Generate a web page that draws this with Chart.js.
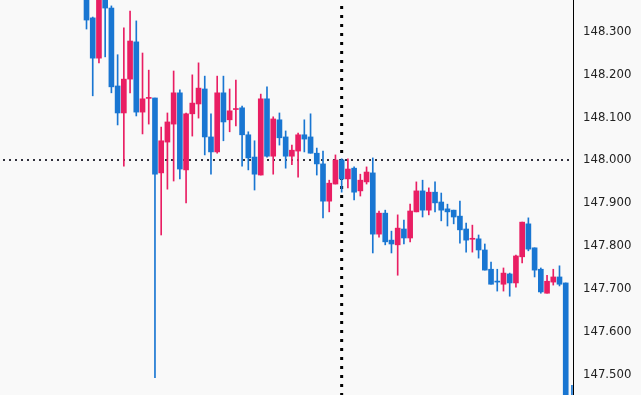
<!DOCTYPE html>
<html><head><meta charset="utf-8">
<script src="https://cdn.jsdelivr.net/npm/chart.js@4.4.1/dist/chart.umd.min.js"></script>
<style>html,body{margin:0;padding:0;background:#f9f9f9;overflow:hidden}#wrap{width:641px;height:395px}</style>
</head><body><div id="wrap"><canvas id="c" width="641" height="395"></canvas></div>
<script>
const candleIndex = [0,1,2,3,4,5,6,7,8,9,10,11,12,13,14,15,16,17,18,19,20,21,22,23,24,25,26,27,28,29,30,31,32,33,34,35,36,37,38,39,40,41,42,43,44,45,46,47,48,49,50,51,52,53,54,55,56,57,58,59,60,61,62,63,64,65,66,67,68,69,70,71,72,73,74,75,76,77,78];
const opens = [148.395,148.332,148.238,148.390,148.355,148.173,148.110,148.189,148.276,148.112,148.144,148.145,147.970,148.042,148.084,148.157,147.977,148.108,148.131,148.166,148.054,148.019,148.157,148.094,148.118,148.122,148.059,148.007,147.965,148.143,148.009,148.094,148.054,148.009,148.021,148.059,148.054,148.016,147.991,147.904,147.944,148.000,147.956,147.981,147.928,147.949,147.970,147.827,147.876,147.813,147.802,147.839,147.818,147.879,147.928,147.883,147.925,147.902,147.886,147.883,147.869,147.839,147.815,147.816,147.790,147.745,147.716,147.710,147.734,147.713,147.774,147.851,147.795,147.745,147.689,147.715,147.727,147.713,147.440];
const highs = [148.400,148.334,148.405,148.398,148.360,148.246,148.309,148.348,148.325,148.250,148.210,148.145,148.077,148.110,148.208,148.164,148.110,148.199,148.227,148.196,148.108,148.196,148.196,148.166,148.187,148.126,148.066,148.045,148.154,148.171,148.101,148.110,148.068,148.035,148.063,148.094,148.108,148.028,148.021,147.953,148.012,148.003,148.003,147.984,147.967,147.984,148.005,147.881,147.883,147.834,147.872,147.860,147.897,147.949,147.953,147.935,147.949,147.923,147.897,147.883,147.904,147.853,147.848,147.825,147.804,147.762,147.745,147.748,147.736,147.778,147.855,147.865,147.795,147.748,147.731,147.745,147.753,147.713,147.474];
const lows = [148.306,148.150,148.227,148.241,148.157,148.082,147.986,148.157,148.103,148.061,148.084,147.492,147.825,147.932,147.951,147.956,147.900,148.056,148.098,148.012,147.967,148.016,148.045,148.066,148.080,147.986,147.977,147.930,147.965,148.007,147.967,148.035,147.981,147.989,147.960,148.019,148.016,147.965,147.865,147.879,147.944,147.925,147.935,147.907,147.916,147.944,147.783,147.820,147.802,147.783,147.731,147.804,147.809,147.879,147.867,147.872,147.879,147.858,147.846,147.851,147.806,147.785,147.785,147.771,147.743,147.710,147.694,147.694,147.682,147.703,147.760,147.788,147.727,147.689,147.689,147.708,147.706,147.400,147.380];
const closes = [148.327,148.238,148.392,148.355,148.171,148.110,148.189,148.278,148.112,148.143,148.145,147.967,148.045,148.089,148.157,147.979,148.108,148.133,148.168,148.054,148.019,148.157,148.089,148.115,148.119,148.059,148.005,147.967,148.143,148.009,148.096,148.052,148.009,148.023,148.059,148.049,148.016,147.991,147.904,147.946,148.000,147.956,147.979,147.925,147.953,147.972,147.827,147.876,147.809,147.804,147.841,147.818,147.881,147.928,147.883,147.925,147.900,147.883,147.879,147.867,147.837,147.813,147.816,147.790,147.743,147.710,147.715,147.736,147.713,147.776,147.855,147.792,147.743,147.692,147.717,147.727,147.710,147.420,147.400];
const yTicks = [147.5,147.6,147.7,147.8,147.9,148.0,148.1,148.2,148.3];
const crossPrice = 148.000;
const crossIndex = 41;

const UP = '#e91e63', DOWN = '#1976d2';
const colorFor = i => closes[i] >= opens[i] ? UP : DOWN;

const bg = {
  id: 'bg',
  beforeDraw(chart) {
    const c = chart.ctx; c.save(); c.fillStyle = '#f9f9f9';
    c.fillRect(0, 0, chart.width, chart.height); c.restore();
  }
};
const cross = {
  id: 'cross',
  beforeDatasetsDraw(chart) {
    const c = chart.ctx, a = chart.chartArea;
    const y = chart.scales.y.getPixelForValue(crossPrice);
    const x = chart.scales.x.getPixelForValue(crossIndex);
    c.save();
    c.strokeStyle = '#30303c'; c.lineWidth = 2; c.setLineDash([2, 4]); c.lineDashOffset = 3;
    c.beginPath(); c.moveTo(a.left, y); c.lineTo(a.right, y); c.stroke();
    c.strokeStyle = '#000'; c.lineWidth = 3; c.setLineDash([3, 6]); c.lineDashOffset = 3;
    c.beginPath(); c.moveTo(x, a.top); c.lineTo(x, a.bottom); c.stroke();
    c.restore();
  }
};

new Chart(document.getElementById('c'), {
  type: 'bar',
  data: {
    datasets: [
      {
        label: 'body',
        data: candleIndex.map((k, i) => ({ x: k, y: [opens[i], closes[i]] })),
        backgroundColor: ctx => colorFor(ctx.dataIndex),
        barThickness: 5, borderWidth: 0, minBarLength: 1, grouped: false
      },
      {
        label: 'wick',
        data: candleIndex.map((k, i) => ({ x: k, y: [lows[i], highs[i]] })),
        backgroundColor: ctx => colorFor(ctx.dataIndex),
        barThickness: 1, borderWidth: 0, grouped: false
      }
    ]
  },
  options: {
    responsive: false, animation: false, devicePixelRatio: 1,
    layout: { padding: 0 },
    plugins: { legend: { display: false }, tooltip: { enabled: false } },
    scales: {
      x: { type: 'linear', min: -13.9, max: 78.17, offset: false, display: false },
      y: {
        position: 'right', min: 147.4513, max: 148.3738,
        grid: { display: false, drawTicks: false },
        border: { display: true, color: '#000', width: 1 },
        afterBuildTicks: s => { s.ticks = yTicks.map(v => ({ value: v })); },
        afterFit: s => { s.width = 68; s.paddingTop = 0; s.paddingBottom = 0; },
        ticks: {
          padding: 10, color: '#222',
          font: { family: '"DejaVu Sans Condensed", "DejaVu Sans", sans-serif', size: 13 },
          callback: v => Number(v).toFixed(3)
        }
      }
    }
  },
  plugins: [bg, cross]
});
</script></body></html>
